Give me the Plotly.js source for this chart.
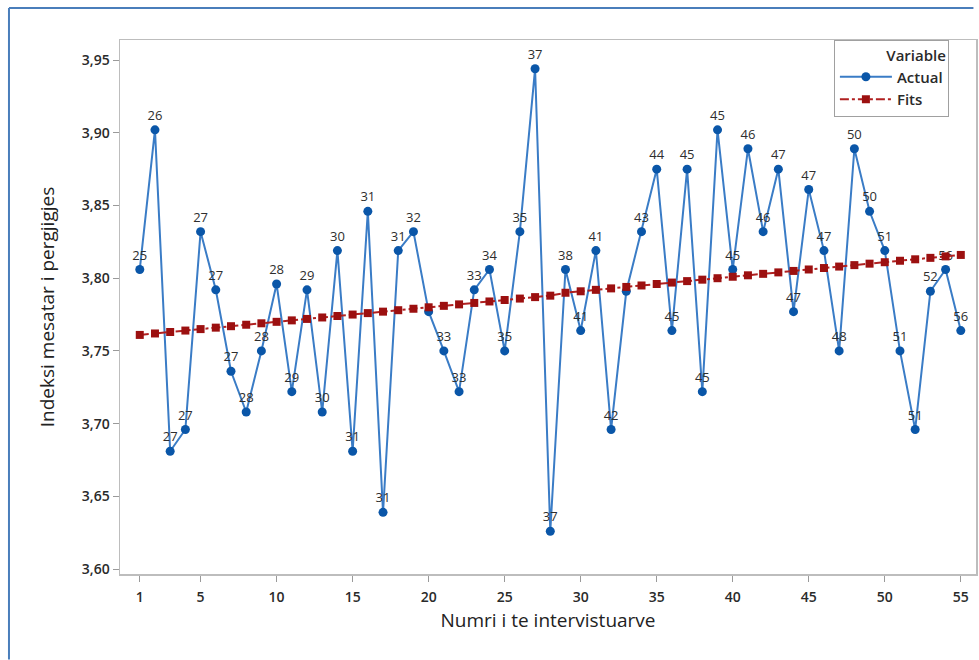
<!DOCTYPE html>
<html>
<head>
<meta charset="utf-8">
<script src="https://cdn.plot.ly/plotly-3.0.1.min.js"></script>
<style>
  html, body { margin: 0; padding: 0; background: #ffffff; }
  #chart { width: 979px; height: 660px; }
</style>
</head>
<body>
<div id="chart"></div>
<script>
// Observation number (x)
const xValues = [1,2,3,4,5,6,7,8,9,10,11,12,13,14,15,16,17,18,19,20,21,22,23,24,25,26,27,28,29,30,31,32,33,34,35,36,37,38,39,40,41,42,43,44,45,46,47,48,49,50,51,52,53,54,55];

// Actual mean index values
const actualValues = [3.806,3.902,3.681,3.696,3.832,3.792,3.736,3.708,3.750,3.796,
                      3.722,3.792,3.708,3.819,3.681,3.846,3.639,3.819,3.832,3.777,
                      3.750,3.722,3.792,3.806,3.750,3.832,3.944,3.626,3.806,3.764,
                      3.819,3.696,3.791,3.832,3.875,3.764,3.875,3.722,3.902,3.806,
                      3.889,3.832,3.875,3.777,3.861,3.819,3.750,3.889,3.846,3.819,
                      3.750,3.696,3.791,3.806,3.764];

// Fitted values (trend line)
const fitsValues = [3.761,3.762,3.763,3.764,3.765,3.766,3.767,3.768,3.769,3.770,
                    3.771,3.772,3.773,3.774,3.775,3.776,3.777,3.778,3.779,3.780,
                    3.781,3.782,3.783,3.784,3.785,3.786,3.787,3.788,3.790,3.791,
                    3.792,3.793,3.794,3.795,3.796,3.797,3.798,3.799,3.800,3.801,
                    3.802,3.803,3.804,3.805,3.806,3.807,3.808,3.809,3.810,3.811,
                    3.812,3.813,3.814,3.815,3.816];

// Point labels
const pointLabels = ["25","26","27","27","27","27","27","28","28","28",
                     "29","29","30","30","31","31","31","31","32","",
                     "33","33","33","34","35","35","37","37","38","41",
                     "41","42","","43","44","45","45","45","45","45",
                     "46","46","47","47","47","47","48","50","50","51",
                     "51","51","52","56","56"];

// Axis tick values / labels
const xTicks = [1,5,10,15,20,25,30,35,40,45,50,55];
const yTicks = [3.60,3.65,3.70,3.75,3.80,3.85,3.90,3.95];

const FONT = '"Open Sans", "Noto Sans", sans-serif';

const traces = [
  {
    x: xValues, y: actualValues, name: 'Actual', type: 'scatter',
    mode: 'lines+markers+text',
    text: pointLabels, textposition: 'top center',
    textfont: { family: FONT, size: 13, color: '#2e2e2e' },
    line: { color: '#3a7cc6', width: 2 },
    marker: { color: '#0a56a8', size: 9, symbol: 'circle' },
    cliponaxis: false
  },
  {
    x: xValues, y: fitsValues, name: 'Fits', type: 'scatter',
    mode: 'lines+markers',
    line: { color: '#b02020', width: 2, dash: 'dashdot' },
    marker: { color: '#9c1010', size: 8, symbol: 'square' }
  }
];

const layout = {
  width: 979, height: 660,
  margin: { l: 120, r: 3, t: 40, b: 86 },
  paper_bgcolor: '#ffffff', plot_bgcolor: '#ffffff',
  separators: ',.',
  font: { family: FONT, color: '#2a2a2a' },
  showlegend: true,
  xaxis: {
    range: [-0.3, 56], tickvals: xTicks, ticktext: xTicks.map(String),
    ticks: 'outside', ticklen: 6, tickcolor: '#9a9a9a', tickwidth: 1,
    showgrid: false, zeroline: false,
    showline: true, linecolor: '#bdbdbd', linewidth: 1.5, mirror: true,
    tickfont: { family: FONT, size: 14, color: '#2a2a2a', weight: 600 },
    ticklabelstandoff: 4,
    title: { text: 'Numri i te intervistuarve', font: { family: FONT, size: 19, color: '#222222' }, standoff: 8 }
  },
  yaxis: {
    range: [3.5966, 3.9638], tickvals: yTicks, tickformat: '.2f',
    ticks: 'outside', ticklen: 6, tickcolor: '#9a9a9a', tickwidth: 1,
    showgrid: false, zeroline: false,
    showline: true, linecolor: '#bdbdbd', linewidth: 1.5, mirror: true,
    tickfont: { family: FONT, size: 14, color: '#2a2a2a', weight: 600 },
    title: { text: 'Indeksi mesatar i pergjigjes', font: { family: FONT, size: 19, color: '#222222' }, standoff: 22 }
  },
  legend: {
    x: 0.834, y: 1, xanchor: 'left', yanchor: 'top',
    bgcolor: '#ffffff', bordercolor: '#a0a0a0', borderwidth: 1,
    title: { text: 'Variable', side: 'top right', font: { family: FONT, size: 15, color: '#2a2a2a', weight: 600 } },
    font: { family: FONT, size: 15, color: '#2a2a2a', weight: 600 },
    tracegroupgap: 0, itemwidth: 52
  },
  shapes: [
    { type: 'line', xref: 'paper', yref: 'paper', x0: -0.1297, x1: 0.997, y0: 1.0599, y1: 1.0599,
      line: { color: '#4a7ebb', width: 2 } },
    { type: 'line', xref: 'paper', yref: 'paper', x0: -0.1297, x1: -0.1297, y0: 1.0599, y1: -0.16,
      line: { color: '#4a7ebb', width: 2 } }
  ]
};

Plotly.newPlot('chart', traces, layout, { displayModeBar: false, staticPlot: true });
</script>
</body>
</html>
